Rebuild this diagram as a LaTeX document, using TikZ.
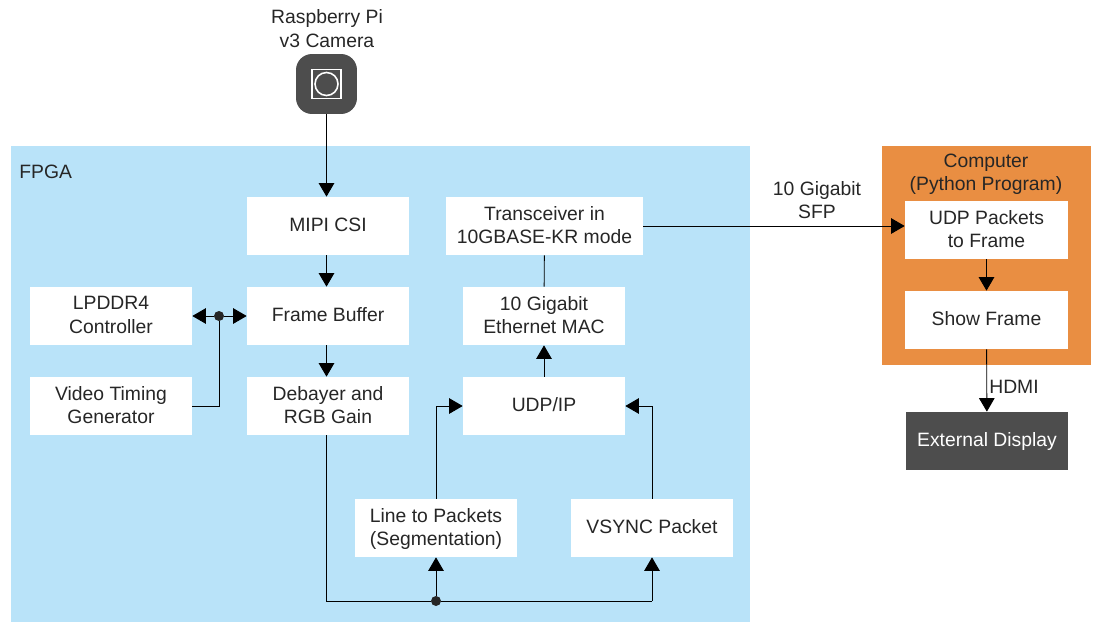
\documentclass[tikz,border=0pt]{standalone}
\usepackage{fontspec}
\setmainfont{Liberation Sans}
\usetikzlibrary{arrows.meta}
\definecolor{fpgablue}{HTML}{B9E3F9}
\definecolor{pcorange}{HTML}{E98E42}
\definecolor{darkgrey}{HTML}{4D4D4D}
\definecolor{inkgrey}{HTML}{262626}

\begin{document}
\begin{tikzpicture}[line cap=butt,line join=miter,x=0.02cm,y=-0.02cm,
    >={Triangle[length=0.27cm,width=0.31cm]},
    every node/.style={font=\fontsize{11}{13.3}\selectfont, text=inkgrey, align=center},
    block/.style={fill=white, minimum width=3.24cm, minimum height=1.16cm, inner sep=0pt, text depth=0.05cm},
    wire/.style={draw=black, line width=0.5pt},
    joint/.style={circle, fill=inkgrey, minimum size=0.2cm, inner sep=0pt}]
    \useasboundingbox (0,0) rectangle (1093,622);

    % backgrounds
    \node[fill=fpgablue, minimum width=14.78cm, minimum height=9.52cm, inner sep=0pt] (fpga) at (380.5,384.2) {};
    \node[fill=pcorange, minimum width=4.18cm, minimum height=4.38cm, inner sep=0pt] (pc) at (986.5,255.5) {};
    \node[anchor=west, inner sep=0pt] (fpgatext) at (19,172) {FPGA};
    \node[inner sep=0pt] (pctext) at (986,174.5) {Computer\\(Python Program)};

    % camera
    \node[inner sep=0pt] (camtext) at (327,28.5) {Raspberry Pi\\v3 Camera};
    \node[fill=darkgrey, rounded corners=0.32cm, minimum width=1.22cm, minimum height=1.2cm, inner sep=0pt] (cam) at (326.5,84) {};
    \node[draw=white, line width=1.1pt, minimum size=0.58cm, inner sep=0pt] (camframe) at (326.5,84) {};
    \node[draw=white, circle, line width=0.9pt, minimum size=0.46cm, inner sep=0pt] (camlens) at (326.5,84) {};

    % fpga blocks
    \node[block] (mipi) at (328,226) {MIPI CSI};
    \node[block] (buffer) at (328,316) {Frame Buffer};
    \node[block] (debayer) at (328,406) {Debayer and\\RGB Gain};
    \node[block] (lpddr) at (111,316) {LPDDR4\\Controller};
    \node[block] (timing) at (111,406) {Video Timing\\Generator};
    \node[block, minimum width=3.94cm] (xcvr) at (544.5,226) {Transceiver in\\10GBASE-KR mode};
    \node[block] (mac) at (544,316) {10 Gigabit\\Ethernet MAC};
    \node[block] (udp) at (544,406) {UDP/IP};
    \node[block] (line) at (436,528) {Line to Packets\\(Segmentation)};
    \node[block] (vsync) at (652,528) {VSYNC Packet};

    % computer blocks
    \node[block, minimum width=3.26cm] (frame) at (986.5,230) {UDP Packets\\to Frame};
    \node[block, minimum width=3.26cm] (show) at (986.5,320) {Show Frame};
    \node[block, fill=darkgrey, text=white, minimum width=3.24cm] (display) at (987,441) {External Display};

    \node[joint] (memjoint) at (219,316) {};
    \node[joint] (busjoint) at (436,601) {};
    \coordinate (buscorner) at (652,601);

    % connectors
    \draw[wire, ->] (cam) -- (cam |- mipi.north);
    \draw[wire, ->] (mipi.south -| cam) -- (buffer.north -| cam);
    \draw[wire, ->] (buffer.south -| cam) -- (debayer.north -| cam);
    \draw[wire, ->] (memjoint) -- (lpddr);
    \draw[wire, ->] (memjoint) -- (buffer);
    \draw[wire] (timing) -| (memjoint);
    \draw[wire] (debayer.south -| cam) |- (busjoint);
    \draw[wire] (busjoint) -- (buscorner);
    \draw[wire, ->] (busjoint) -- (line);
    \draw[wire, ->] (buscorner) -- (vsync);
    \draw[wire, ->] (line) |- (udp);
    \draw[wire, ->] (vsync) |- (udp);
    \draw[wire, ->] (udp) -- (mac);
    \draw[wire] (mac) -- (xcvr);
    \draw[wire, ->] (xcvr.east) -- (xcvr.east -| frame.west);
    \draw[wire, ->] (frame) -- (show);
    \draw[wire, ->] (show) -- (display);

    \node[inner sep=0pt] (sfptext) at (817,200) {10 Gigabit\\SFP};
    \node[inner sep=0pt] (hdmitext) at (1014,387) {HDMI};
\end{tikzpicture}
\end{document}
